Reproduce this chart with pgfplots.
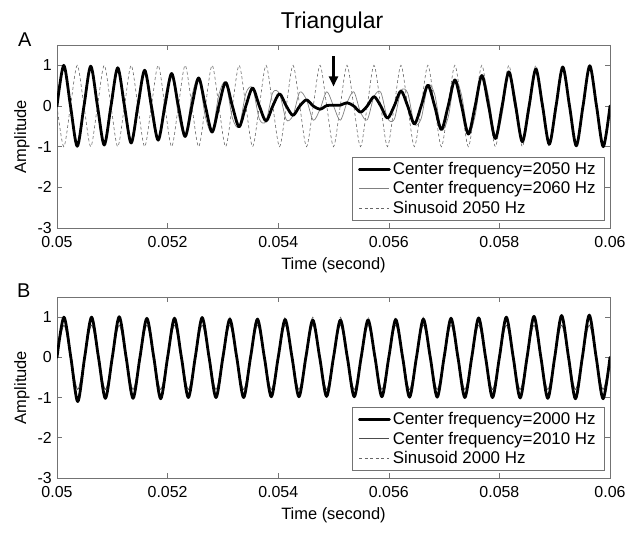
\documentclass[border=0pt]{standalone}
\usepackage{fontspec}
\setmainfont{Liberation Sans}
\usepackage{pgfplots}
\pgfplotsset{compat=1.18}
\usetikzlibrary{arrows.meta}

% panel A: t, 2050 Hz filter output, 2060 Hz filter output, 2050 Hz sinusoid
\pgfplotstableread{
t thick gray sinus
0.050000 0 0 0
0.050122 1.00 1.00 -1
0.050244 0 -0.03 0
0.050366 -0.99 -0.99 1
0.050488 0 0.05 0
0.050610 0.98 0.98 -1
0.050732 0 -0.08 0
0.050854 -0.96 -0.96 1
0.050976 0 0.11 0
0.051098 0.94 0.94 -1
0.051220 0 -0.13 0
0.051341 -0.91 -0.91 1
0.051463 0 0.16 0
0.051585 0.88 0.88 -1
0.051707 0 -0.18 0
0.051829 -0.84 -0.84 1
0.051951 0 0.20 0
0.052073 0.80 0.80 -1
0.052195 0 -0.22 0
0.052317 -0.75 -0.75 1
0.052439 0 0.24 0
0.052561 0.69 0.69 -1
0.052683 0 -0.26 0
0.052805 -0.64 -0.64 1
0.052927 0 0.28 0
0.053049 0.58 0.58 -1
0.053171 0 -0.29 0
0.053293 -0.51 -0.51 1
0.053415 0 0.31 0
0.053537 0.44 0.44 -1
0.053659 0 -0.32 0
0.053780 -0.37 -0.37 1
0.053902 0 0.33 0
0.054024 0.30 0.30 -1
0.054146 0 -0.34 0
0.054268 -0.23 -0.23 1
0.054390 0 0.34 0
0.054512 0.15 0.15 -1
0.054634 0 -0.35 0
0.054756 -0.08 -0.08 1
0.054878 0.01 0.35 0
0.055000 0.02 0 -1
0.055122 0.02 -0.35 0
0.055244 0.08 0.08 1
0.055366 0 0.35 0
0.055488 -0.15 -0.15 -1
0.055610 0 -0.34 0
0.055732 0.23 0.23 1
0.055854 0 0.34 0
0.055976 -0.30 -0.30 -1
0.056098 0 -0.33 0
0.056220 0.37 0.37 1
0.056341 0 0.32 0
0.056463 -0.44 -0.44 -1
0.056585 0 -0.31 0
0.056707 0.51 0.51 1
0.056829 0 0.29 0
0.056951 -0.58 -0.58 -1
0.057073 0 -0.28 0
0.057195 0.64 0.64 1
0.057317 0 0.26 0
0.057439 -0.69 -0.69 -1
0.057561 0 -0.24 0
0.057683 0.75 0.75 1
0.057805 0 0.22 0
0.057927 -0.80 -0.80 -1
0.058049 0 -0.20 0
0.058171 0.84 0.84 1
0.058293 0 0.18 0
0.058415 -0.88 -0.88 -1
0.058537 0 -0.16 0
0.058659 0.91 0.91 1
0.058780 0 0.13 0
0.058902 -0.94 -0.94 -1
0.059024 0 -0.11 0
0.059146 0.96 0.96 1
0.059268 0 0.08 0
0.059390 -0.98 -0.98 -1
0.059512 0 -0.05 0
0.059634 0.99 0.99 1
0.059756 0 0.03 0
0.059878 -1.00 -1.00 -1
0.060000 0 0 0
}\dataA

% panel B: t, 2000 Hz filter output, 2010 Hz filter output, 2000 Hz sinusoid
\pgfplotstableread{
t thick gray sinus
0.050000 0 0 0
0.050125 1.00 0.80 1
0.050250 0 0 0
0.050375 -1.10 -0.80 -1
0.050500 0 0 0
0.050625 1.00 0.80 1
0.050750 0 0 0
0.050875 -1.02 -0.80 -1
0.051000 0 0 0
0.051125 1.01 0.80 1
0.051250 0 0 0
0.051375 -1.02 -0.80 -1
0.051500 0 0 0
0.051625 0.97 0.80 1
0.051750 0 0 0
0.051875 -1.03 -0.80 -1
0.052000 0 0 0
0.052125 0.97 0.80 1
0.052250 0 0 0
0.052375 -1.00 -0.80 -1
0.052500 0 0 0
0.052625 0.99 0.80 1
0.052750 0 0 0
0.052875 -1.00 -0.80 -1
0.053000 0 0 0
0.053125 0.95 0.80 1
0.053250 0 0 0
0.053375 -1.00 -0.80 -1
0.053500 0 0 0
0.053625 0.95 0.80 1
0.053750 0 0 0
0.053875 -0.98 -0.80 -1
0.054000 0 0 0
0.054125 0.94 0.80 1
0.054250 0 0 0
0.054375 -0.98 -0.80 -1
0.054500 0 0 0
0.054625 0.93 0.80 1
0.054750 0 0 0
0.054875 -0.97 -0.80 -1
0.055000 0 0 0
0.055125 0.93 0.80 1
0.055250 0 0 0
0.055375 -0.98 -0.80 -1
0.055500 0 0 0
0.055625 0.93 0.80 1
0.055750 0 0 0
0.055875 -0.98 -0.80 -1
0.056000 0 0 0
0.056125 0.94 0.80 1
0.056250 0 0 0
0.056375 -0.99 -0.80 -1
0.056500 0 0 0
0.056625 0.95 0.80 1
0.056750 0 0 0
0.056875 -0.99 -0.80 -1
0.057000 0 0 0
0.057125 0.97 0.80 1
0.057250 0 0 0
0.057375 -1.00 -0.80 -1
0.057500 0 0 0
0.057625 0.98 0.80 1
0.057750 0 0 0
0.057875 -1.00 -0.80 -1
0.058000 0 0 0
0.058125 1.00 0.80 1
0.058250 0 0 0
0.058375 -1.01 -0.80 -1
0.058500 0 0 0
0.058625 1.02 0.80 1
0.058750 0 0 0
0.058875 -1.02 -0.80 -1
0.059000 0 0 0
0.059125 1.04 0.80 1
0.059250 0 0 0
0.059375 -1.03 -0.80 -1
0.059500 0 0 0
0.059625 1.05 0.80 1
0.059750 0 0 0
0.059875 -1.03 -0.80 -1
0.060000 0 0 0
}\dataB

\tikzset{
  thickline/.style={black, line width=2.8bp, line join=round, line cap=round},
  grayline/.style={black!50, line width=0.7bp},
  darkline/.style={black!70, line width=0.7bp},
  dashline/.style={black!60, line width=0.6bp, dash pattern=on 3bp off 2.5bp},
}

\pgfplotsset{
  panel/.style={
    scale only axis, width=553bp,
    xmin=0.05, xmax=0.06, ymin=-3, ymax=1.5,
    scaled x ticks=false, scaled y ticks=false,
    xtick={0.05,0.052,0.054,0.056,0.058,0.06},
    xticklabels={0.05,0.052,0.054,0.056,0.058,0.06},
    ytick={-3,-2,-1,0,1},
    yticklabels={-3,-2,-1,0,1},
    tick align=inside, tick pos=both,
    major tick length=5bp,
    axis line style={black!55, line width=0.6bp},
    every tick/.style={black!55, line width=0.6bp},
    ticklabel style={font=\fontsize{16}{19}\selectfont, inner sep=0pt},
    xticklabel style={yshift=-8bp},
    yticklabel style={xshift=-5bp},
    xlabel={Time (second)}, ylabel={Amplitude},
    label style={font=\fontsize{16.5}{19}\selectfont, inner sep=0pt},
    xlabel style={at={(axis description cs:0.5,0)}, anchor=center, yshift=-37bp},
    ylabel style={at={(axis description cs:-0.0633,0.5)}, anchor=center},
    legend style={at={(0.989,0.044)}, anchor=south east, draw=black!55, fill=white,
      font=\fontsize{17}{20}\selectfont, row sep=1.5bp, inner xsep=6bp, inner ysep=3bp,
      nodes={inner sep=2bp}},
    legend cell align=left,
    legend image code/.code={\draw[#1] (0bp,0bp) -- (30bp,0bp);},
    reverse legend,
  },
}

\begin{document}
\begin{tikzpicture}
\useasboundingbox (0,0) rectangle (639bp,534bp);

\node[anchor=base, inner sep=0pt, font=\fontsize{23}{26}\selectfont] at (332bp,505bp) {Triangular};
\node[anchor=base west, inner sep=0pt, font=\fontsize{20}{24}\selectfont] at (18bp,487bp) {A};
\node[anchor=base west, inner sep=0pt, font=\fontsize{20}{24}\selectfont] at (17bp,236bp) {B};

\begin{axis}[panel, height=183bp, at={(57bp,306bp)}, anchor=south west]
  \addplot[dashline, smooth] table[x=t, y=sinus] {\dataA};
  \addlegendentry{Sinusoid 2050 Hz}
  \addplot[grayline, smooth] table[x=t, y=gray] {\dataA};
  \addlegendentry{Center frequency=2060 Hz}
  \addplot[thickline, smooth] table[x=t, y=thick] {\dataA};
  \addlegendentry{Center frequency=2050 Hz}
  \draw[black, line width=2.2bp, -{Triangle[length=10bp, width=9bp]}]
    (axis cs:0.055,1.22) -- (axis cs:0.055,0.48);
\end{axis}

\begin{axis}[panel, height=181bp, at={(57bp,56bp)}, anchor=south west]
  \addplot[dashline, smooth] table[x=t, y=sinus] {\dataB};
  \addlegendentry{Sinusoid 2000 Hz}
  \addplot[darkline, smooth] table[x=t, y=gray] {\dataB};
  \addlegendentry{Center frequency=2010 Hz}
  \addplot[thickline, smooth] table[x=t, y=thick] {\dataB};
  \addlegendentry{Center frequency=2000 Hz}
\end{axis}
\end{tikzpicture}
\end{document}
